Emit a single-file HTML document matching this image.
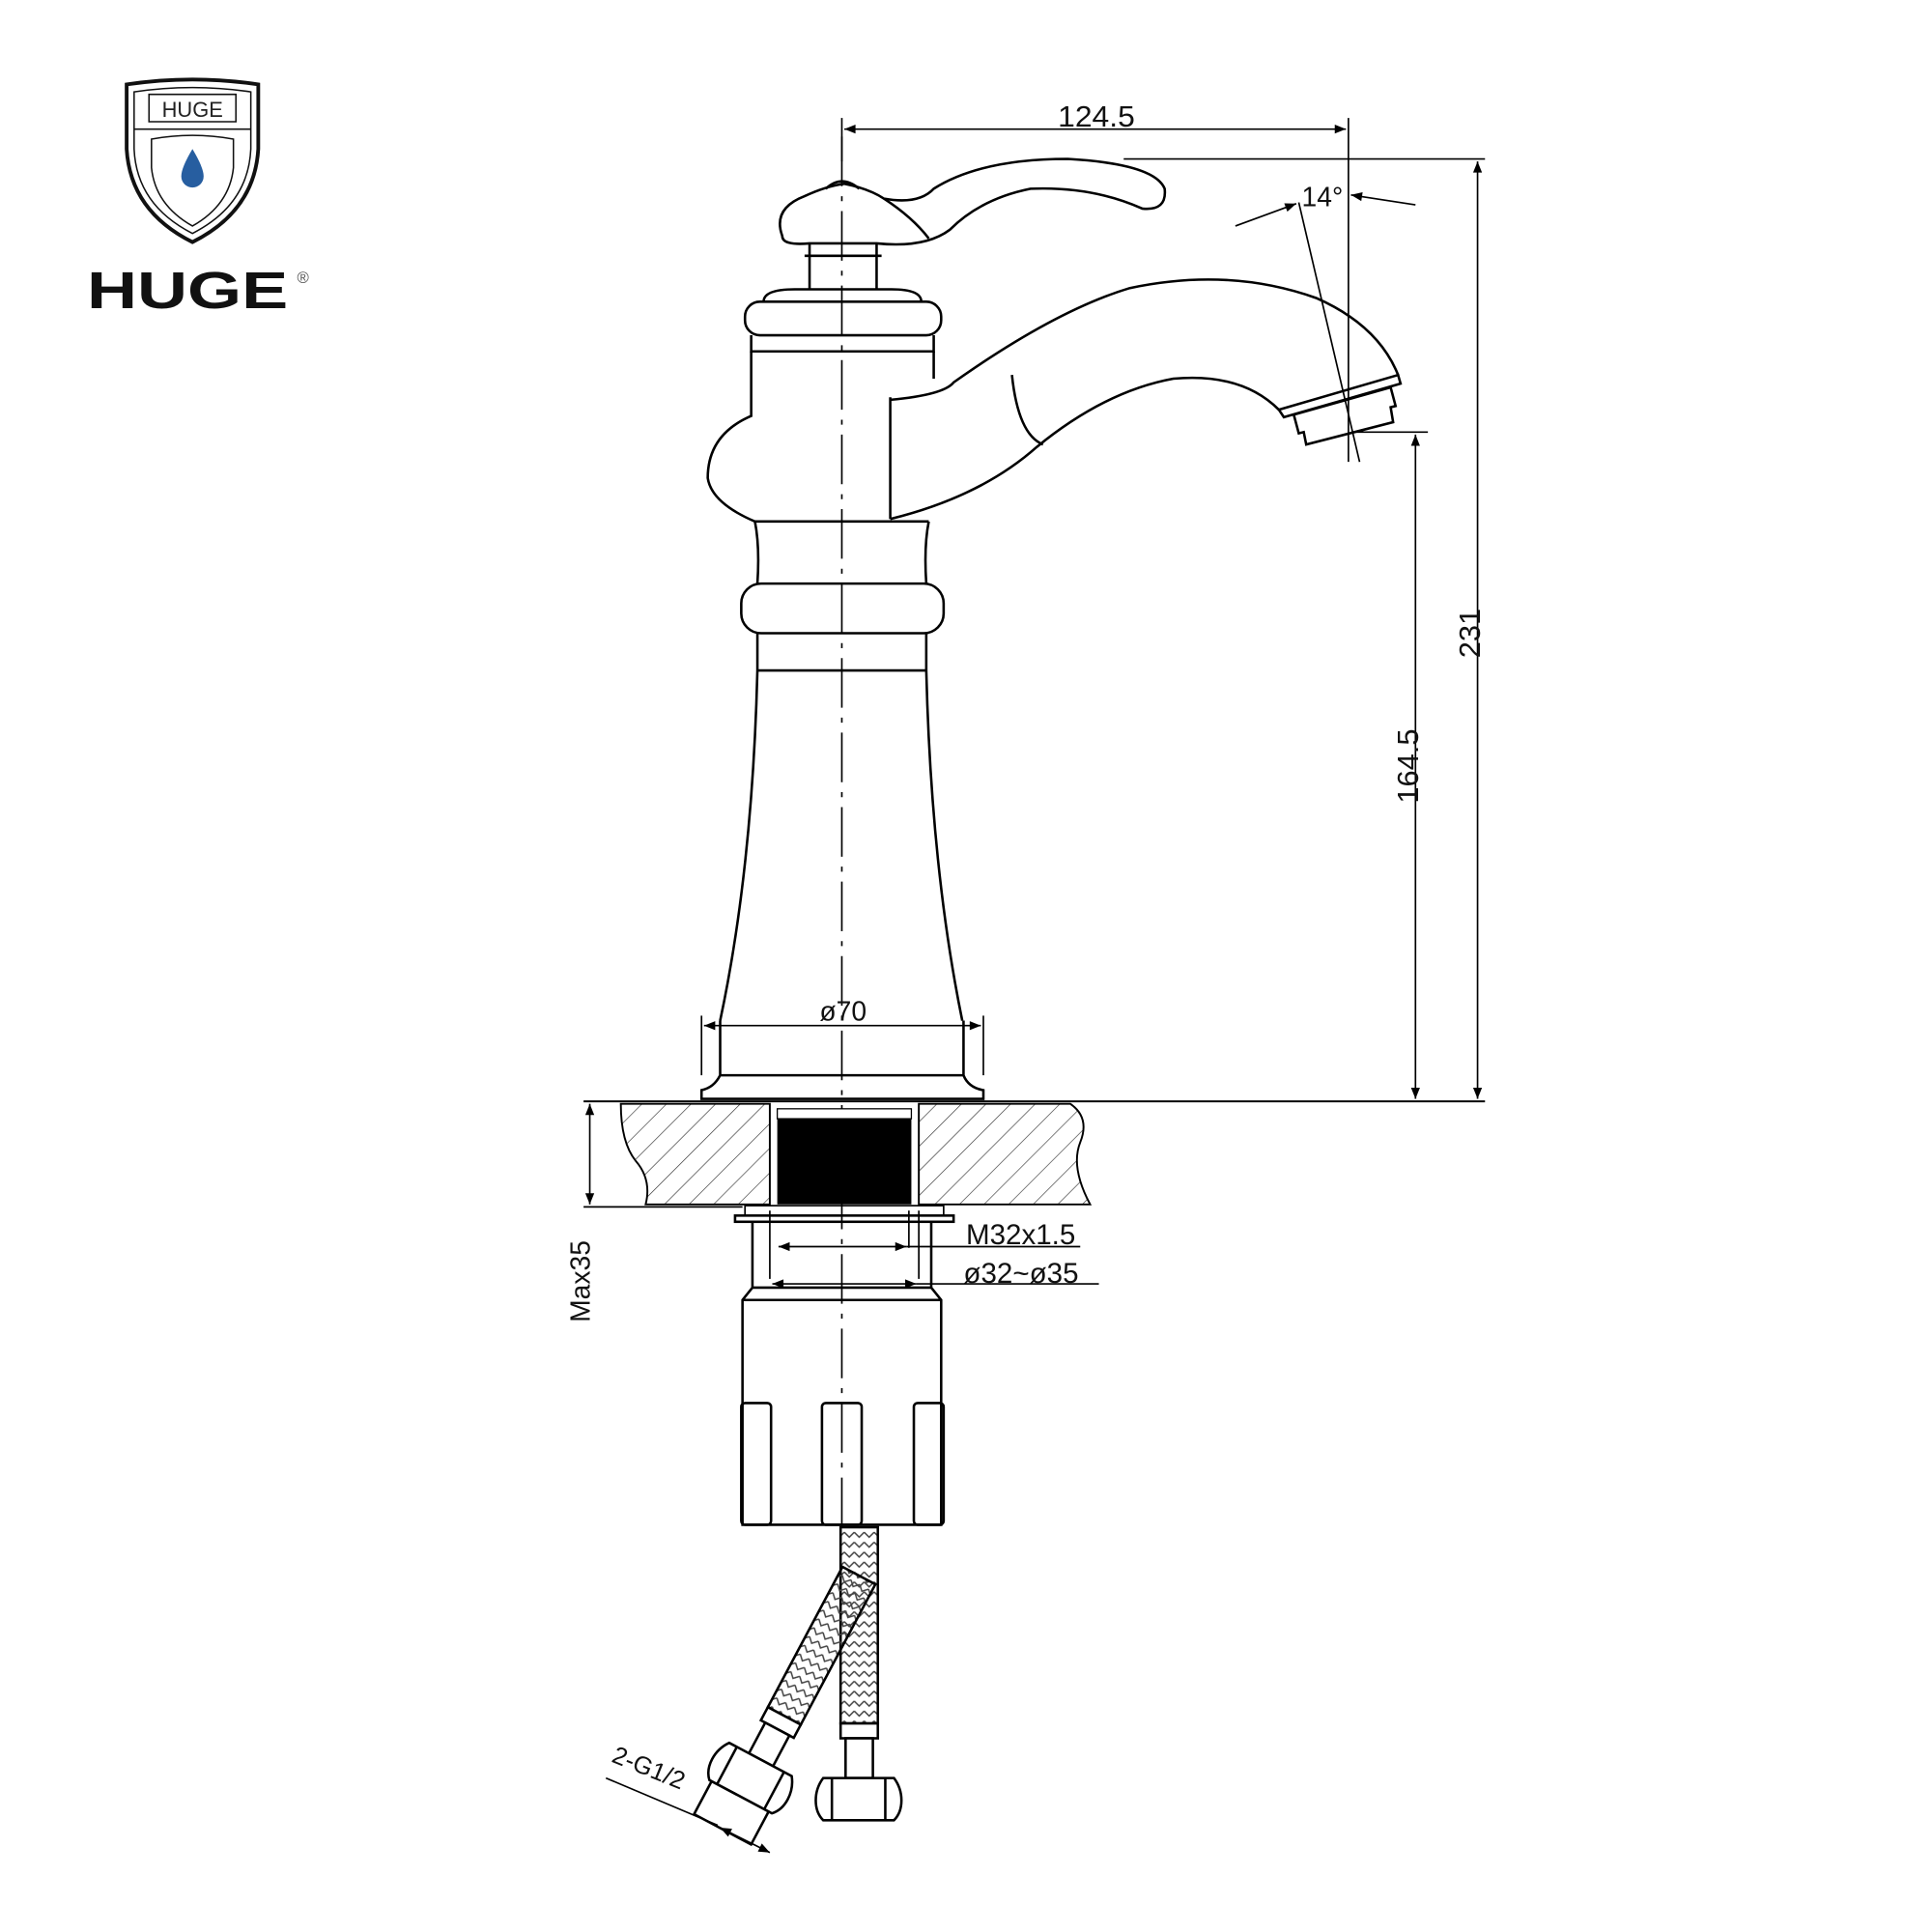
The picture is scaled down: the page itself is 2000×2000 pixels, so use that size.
<!DOCTYPE html>
<html><head><meta charset="utf-8"><style>html,body{margin:0;padding:0;background:#fff}svg{display:block}</style></head>
<body>
<svg width="2000" height="2000" viewBox="0 0 1556 1556" xmlns="http://www.w3.org/2000/svg">
<defs>
<marker id="ar" viewBox="0 0 10 10" refX="10" refY="5" markerWidth="26" markerHeight="9" markerUnits="userSpaceOnUse" orient="auto-start-reverse"><path d="M0,1 L10,5 L0,9z" fill="#000"/></marker>
<pattern id="hatch" width="14" height="14" patternUnits="userSpaceOnUse" patternTransform="rotate(45)"><line x1="0" y1="0" x2="0" y2="14" stroke="#333" stroke-width="1"/></pattern>
<pattern id="braid" width="8" height="8" patternUnits="userSpaceOnUse"><path d="M0,2 L4,6 L8,2" fill="none" stroke="#444" stroke-width="1.2"/></pattern>
</defs>
<rect width="1556" height="1556" fill="#fff"/>

<!-- Logo -->
<g fill="none" stroke="#111">
<path d="M102,68 Q155,60 208,68 L208,120 Q205,170 155,195 Q105,170 102,120Z" stroke-width="3"/>
<path d="M108,74 Q155,67 202,74 L202,120 Q200,165 155,188 Q110,165 108,120Z" stroke-width="1.2"/>
<path d="M120,76 L190,76 L190,98 L120,98Z" stroke-width="1.2"/>
<path d="M108,104 L202,104" stroke-width="1.2"/>
<path d="M122,112 Q155,106 188,112 L188,135 Q185,165 155,182 Q125,165 122,135Z" stroke-width="1.2"/>
</g>
<text x="155" y="94" font-family="Liberation Sans, sans-serif" font-size="17" text-anchor="middle" fill="#222">HUGE</text>
<path d="M155,120 Q146,135 146,142 A9,9 0 0 0 164,142 Q164,135 155,120Z" fill="#275ea0"/>
<text x="70" y="248" font-family="Liberation Sans, sans-serif" font-weight="bold" font-size="42" fill="#111" textLength="162" lengthAdjust="spacingAndGlyphs">HUGE</text>
<text x="244" y="228" font-family="Liberation Sans, sans-serif" font-size="13" fill="#555" text-anchor="middle">®</text>

<g fill="none" stroke="#000" stroke-width="2">
<line x1="678" y1="110" x2="678" y2="1235" stroke-width="1.3" stroke-dasharray="40,8,4,8"/>
<line x1="678" y1="95" x2="678" y2="130" stroke-width="1.3"/>
<line x1="1086" y1="95" x2="1086" y2="372" stroke-width="1.3"/>
<line x1="680" y1="104" x2="1084" y2="104" marker-start="url(#ar)" marker-end="url(#ar)" stroke-width="1.3"/>
<line x1="905" y1="128" x2="1196" y2="128" stroke-width="1.3"/>
<line x1="1190" y1="130" x2="1190" y2="885" marker-start="url(#ar)" marker-end="url(#ar)" stroke-width="1.3"/>
<line x1="1090" y1="348" x2="1150" y2="348" stroke-width="1.3"/>
<line x1="1140" y1="350" x2="1140" y2="885" marker-start="url(#ar)" marker-end="url(#ar)" stroke-width="1.3"/>
<line x1="470" y1="887" x2="1196" y2="887" stroke-width="1.5"/>
<line x1="1046" y1="163" x2="1095" y2="372" stroke-width="1.3"/>
<line x1="995" y1="182" x2="1044" y2="164" marker-end="url(#ar)" stroke-width="1.3"/>
<line x1="1140" y1="165" x2="1088" y2="157" marker-end="url(#ar)" stroke-width="1.3"/>

<path d="M630,190 Q622,168 648,158 Q665,150 680,148 Q700,152 712,160 Q740,165 752,152 Q790,128 860,128 Q930,132 938,152 Q940,170 920,168 Q880,150 830,152 Q790,160 765,185 Q745,200 706,196 L652,196 Q630,198 630,190Z"/>
<path d="M665,152 Q678,140 692,152"/>
<path d="M712,160 Q735,175 748,192"/>
<path d="M652,196 L652,233 M706,196 L706,233 M648,206 L710,206"/>
<path d="M615,243 Q615,233 640,233 L718,233 Q742,233 742,243" />
<rect x="600" y="243" width="158" height="27" rx="12"/>
<path d="M605,270 L605,283 L752,283 L752,270"/>
<path d="M605,283 L605,335 Q570,350 570,385 Q573,405 608,420"/>
<path d="M752,283 L752,305"/>
<path d="M608,420 L748,420"/>
<line x1="717" y1="320" x2="717" y2="418"/>
<path d="M717,322 Q760,318 768,308 Q850,250 910,232 Q990,215 1060,240 Q1110,262 1126,302"/>
<path d="M717,418 Q790,400 835,360 Q890,315 945,305 Q1000,300 1030,330"/>
<path d="M815,302 Q820,350 840,358"/>
<path d="M1030,330 L1126,302 L1128,309 L1034,336Z"/>
<path d="M1042,334 L1120,312 L1124,327 L1120,328 L1122,340 L1052,358 L1050,348 L1046,349Z"/>
<path d="M608,420 Q612,440 610,470 M748,420 Q744,440 746,470"/>
<rect x="597" y="470" width="163" height="40" rx="16"/>
<path d="M610,510 L610,540 M746,510 L746,540 M610,540 L746,540"/>
<path d="M610,540 Q606,700 580,822 M746,540 Q750,700 775,822"/>
<path d="M580,822 L580,866 Q575,876 565,878 L565,885 L792,885 L792,878 Q780,876 776,866 L776,822"/>
<path d="M580,866 L776,866"/>
<line x1="565" y1="818" x2="565" y2="866" stroke-width="1.3"/>
<line x1="792" y1="818" x2="792" y2="866" stroke-width="1.3"/>
<line x1="567" y1="826" x2="790" y2="826" marker-start="url(#ar)" marker-end="url(#ar)" stroke-width="1.3"/>
</g>

<path d="M500,889 L620,889 L620,970 L520,970 Q525,950 512,935 Q500,920 500,889Z" fill="url(#hatch)" stroke="#000" stroke-width="1.5"/>
<path d="M740,889 L862,889 Q878,900 870,920 Q862,940 878,970 L740,970Z" fill="url(#hatch)" stroke="#000" stroke-width="1.5"/>
<rect x="626" y="900" width="108" height="70" fill="#000"/>
<rect x="626" y="893" width="108" height="8" fill="#fff" stroke="#000"/>
<g fill="none" stroke="#000" stroke-width="2">
<line x1="470" y1="972" x2="598" y2="972" stroke-width="1.3"/>
<line x1="475" y1="889" x2="475" y2="970" marker-start="url(#ar)" marker-end="url(#ar)" stroke-width="1.3"/>
<rect x="600" y="971" width="160" height="8" stroke-width="1.3"/>
<rect x="592" y="979" width="176" height="5"/>
<path d="M606,984 L606,1037 L598,1047 L598,1228 L758,1228 L758,1047 L750,1037 L750,984"/>
<line x1="606" y1="1037" x2="750" y2="1037"/>
<line x1="598" y1="1047" x2="758" y2="1047"/>
<line x1="620" y1="975" x2="620" y2="1030" stroke-width="1.3"/>
<line x1="732" y1="975" x2="732" y2="1005" stroke-width="1.3"/>
<line x1="740" y1="975" x2="740" y2="1030" stroke-width="1.3"/>
<line x1="627" y1="1004" x2="730" y2="1004" marker-start="url(#ar)" marker-end="url(#ar)" stroke-width="1.3"/>
<line x1="730" y1="1004" x2="870" y2="1004" stroke-width="1.3"/>
<line x1="622" y1="1034" x2="738" y2="1034" marker-start="url(#ar)" marker-end="url(#ar)" stroke-width="1.3"/>
<line x1="738" y1="1034" x2="885" y2="1034" stroke-width="1.3"/>
<rect x="597" y="1130" width="24" height="98" rx="3"/>
<rect x="662" y="1130" width="32" height="98" rx="3"/>
<rect x="736" y="1130" width="24" height="98" rx="3"/>
</g>

<g stroke="#000" stroke-width="2">
<rect x="677" y="1230" width="30" height="158" fill="url(#braid)"/>
<g fill="#fff">
<rect x="677" y="1388" width="30" height="12"/>
<rect x="681" y="1400" width="22" height="32"/>
<path d="M663,1432 L720,1432 Q726,1440 726,1450 Q726,1460 720,1466 L663,1466 Q657,1460 657,1450 Q657,1440 663,1432Z"/>
<line x1="670" y1="1432" x2="670" y2="1466" fill="none"/><line x1="713" y1="1432" x2="713" y2="1466" fill="none"/>
</g>
<g transform="rotate(28 690 1268)">
<rect x="677" y="1268" width="30" height="128" fill="url(#braid)"/>
<g fill="#fff">
<rect x="677" y="1396" width="30" height="12"/>
<rect x="681" y="1408" width="22" height="28"/>
<path d="M663,1436 L720,1436 Q726,1444 726,1454 Q726,1464 720,1470 L663,1470 Q657,1464 657,1454 Q657,1444 663,1436Z"/>
<line x1="670" y1="1436" x2="670" y2="1470" fill="none"/><line x1="713" y1="1436" x2="713" y2="1470" fill="none"/>
<rect x="665" y="1470" width="52" height="30"/>
</g>
</g>
<line x1="488" y1="1432" x2="578" y2="1470" stroke-width="1.3" fill="none"/>
<line x1="580" y1="1472" x2="620" y2="1492" stroke-width="1.3" marker-start="url(#ar)" marker-end="url(#ar)" fill="none"/>
</g>

<g font-family="Liberation Sans, sans-serif" fill="#111">
<text x="883" y="102" font-size="24" text-anchor="middle" textLength="62" lengthAdjust="spacingAndGlyphs">124.5</text>
<text x="1065" y="166" font-size="22" text-anchor="middle">14°</text>
<text transform="translate(1192,510) rotate(-90)" font-size="24" text-anchor="middle">231</text>
<text transform="translate(1142,617) rotate(-90)" font-size="24" text-anchor="middle">164.5</text>
<text x="679" y="822" font-size="22" text-anchor="middle">ø70</text>
<text x="778" y="1002" font-size="23">M32x1.5</text>
<text x="776" y="1033" font-size="23">ø32~ø35</text>
<text transform="translate(475,1032) rotate(-90)" font-size="22" text-anchor="middle">Max35</text>
<text transform="translate(520,1430) rotate(22)" font-size="20" text-anchor="middle">2-G1/2</text>
</g>
</svg>
</body></html>
